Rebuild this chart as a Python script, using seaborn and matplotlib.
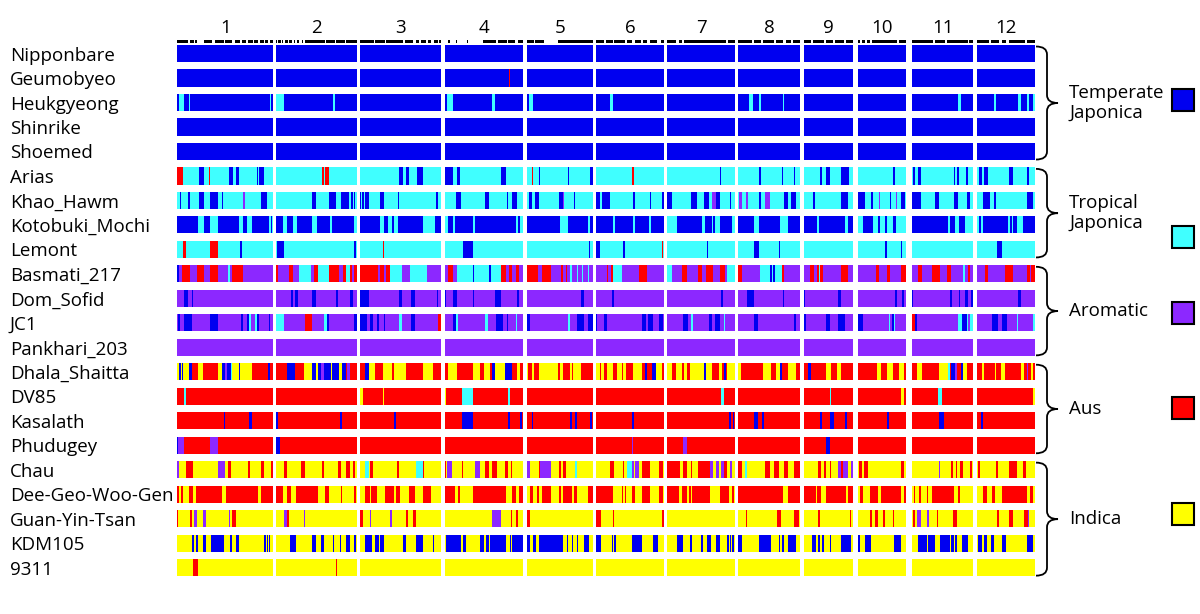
import numpy as np
import pandas as pd
import matplotlib
matplotlib.use("Agg")
import matplotlib.pyplot as plt
from matplotlib.colors import ListedColormap
from matplotlib.path import Path
from matplotlib.patches import PathPatch, Rectangle
import seaborn as sns

# ---------------- data ----------------
CHROMS = ["1", "2", "3", "4", "5", "6", "7", "8", "9", "10", "11", "12"]
CHROM_MB = [43.8, 36.7, 37.3, 35.9, 29.9, 31.0, 30.8, 28.6, 22.6, 22.1, 27.7, 26.3]

SAMPLES = ["Nipponbare", "Geumobyeo", "Heukgyeong", "Shinrike", "Shoemed",
           "Arias", "Khao_Hawm", "Kotobuki_Mochi", "Lemont",
           "Basmati_217", "Dom_Sofid", "JC1", "Pankhari_203",
           "Dhala_Shaitta", "DV85", "Kasalath", "Phudugey",
           "Chau", "Dee-Geo-Woo-Gen", "Guan-Yin-Tsan", "KDM105", "9311"]

ANCESTRY = ["Temperate\nJaponica", "Tropical\nJaponica", "Aromatic", "Aus", "Indica"]
ANCESTRY_CODE = ["B", "C", "P", "R", "Y"]
ANCESTRY_COLORS = ["#0000F0", "#40FFFF", "#8C28FF", "#FF0000", "#FFFF00"]
GROUP_FIRST = [0, 5, 9, 13, 17]
GROUP_LAST = [4, 8, 12, 16, 21]

# marker positions along each chromosome (K = marker, _ = none)
MARKERS = [
    "K30 _5 K12 _4 K5 _10 K3 _8 K22 _8 K25 _5 K20 _6 K15 _5 K12 _6 K15 _4 K10 _6 K10 _4 K8 _5 K10",
    "K3 _4 K6 _3 K4 _6 K10 _4 K8 _6 K4 _5 K6 _10 K4 _6 K60 _3 K30 _3 K25 _3 K35",
    "K40 _3 K30 _3 K50 _4 K25 _10 K6 _6 K15 _5 K10 _10 K8 _4 K8",
    "K3 _10 K4 _20 K3 _30 K4 _48 K40 _5 K30 _4 K20 _10 K15",
    "K20 _4 K25 _45 K105",
    "K25 _6 K20 _4 K35 _6 K15 _8 K20 _5 K15 _6 K25 _10 K10",
    "K25 _8 K10 _5 K120 _5 K20",
    "K40 _4 K20 _6 K30 _5 K20 _8 K15 _4 K20",
    "K20 _5 K30 _6 K20 _4 K25 _5 K20",
    "K8 _6 K8 _6 K8 _6 K70 _5 K20",
    "K60 _4 K30 _5 K60 _5 K10",
    "K30 _5 K20 _6 K10 _8 K40 _5 K20",
]

# ancestry segments per chromosome (letter = ancestry, number = relative length)
NIPPONBARE = ["B", "B", "B", "B", "B", "B", "B", "B", "B", "B", "B", "B"]
GEUMOBYEO = ["B", "B", "B", "B194 R3 B39", "B", "B", "B", "B", "B", "B", "B", "B"]
HEUKGYEONG = ["B5 C15 B15 C5 B238 C5 B5", "C24 B146 C4 B67", "B", "B7 C20 B117 C9 B83",
              "B5 C11 B180", "B42 C9 B153", "B", "B34 C12 B20 C4 B65 C3 B50", "B", "B",
              "B139 C8 B35", "B51 C5 B67 C10 B15 C8 B10 C7"]
SHINRIKE = ["B", "B", "B", "B", "B", "B", "B", "B", "B", "B", "B", "B"]
SHOEMED = ["B", "B", "B", "B", "B", "B", "B", "B", "B", "B", "B", "B"]
ARIAS = ["R18 C47 B14 C16 R3 C57 B13 C10 B7 C55 B3 C3 B15 C27", "C138 R5 C3 R12 C83",
         "C119 B12 C8 B8 C24 B18 C56", "C3 B22 C12 B10 C125 B12 C52",
         "C13 R4 C17 B4 C85 B3 C64 B6", "C106 R7 C91", "C157 B4 C41",
         "C65 B5 C63 B4 C32 B4 C15", "C50 B5 C10 B13 C32 B26 C12", "C106 B8 C31",
         "C3 B3 C10 B10 C99 B4 C4 B7 C21 B5 C16", "C6 B9 C6 B10 C64 B12 C43 B4 C19"]
KHAO_HAWM = ["C8 B3 C22 B7 C25 B14 C19 B23 C14 B3 C25 B3 C32 P4 C48 B18 C20",
             "C106 B12 C40 B20 C15 B25 C6 B4 C4 B4 C5",
             "B2 C5 B5 C2 B13 C32 B14 C42 B4 C109 B8 C9",
             "C34 B15 C73 B12 C55 B4 C11 B15 C17",
             "C4 B10 C10 B10 C62 B10 P5 C10 B3 C17 B3 C52",
             "B10 C7 B25 C68 B9 C43 B3 C32 B7",
             "B15 C55 B18 C22 B14 C9 P13 B11 C29 B6 C10",
             "C5 P8 C13 P4 C35 B5 C13 P15 C40 B15 C8 B15 C12",
             "C27 B6 C77 B22 C16",
             "B23 C17 B6 C17 P5 C30 B4 C13 P5 C11 B12 C2",
             "B26 C42 B12 C45 B13 C27 B8 C9",
             "C19 B19 C13 B4 C93 B18 C7"]
KOTOBUKI_MOCHI = ["B63 C16 B19 C25 B62 C11 B14 C13 B52 C5 B5 C3",
                  "B21 C12 B15 C13 B45 C15 B40 C7 B65 C8",
                  "B59 C14 B13 C12 B4 C13 B73 C38 B19",
                  "C12 B15 C6 B54 C5 B123 C6 B6 C9",
                  "B98 C25 B58 C7 B8",
                  "B50 C7 B55 C7 B40 C7 B38",
                  "C28 B75 C8 B22 C5 B5 C15 B35 C9",
                  "B48 C18 B62 C25 B35",
                  "B40 C5 B80 C8 B15",
                  "C16 B30 C14 B8 C15 B7 C15 B10 C30",
                  "B108 C5 B15 C13 B17 C24",
                  "C6 B4 C8 B75 C5 B7 C3 B10 C18 B37"]
LEMONT = ["C18 R8 C72 R25 C67 B3 C95", "C3 B20 C210 B6 C2", "C68 R5 C172", "C55 B32 C149",
          "C184 B4 C8", "B10 C72 B5 C112 R3 C2", "C118 B4 C80", "C50 B15 C58 B5 C60",
          "C", "C83 B7 C40 B3 C12", "C", "C60 B13 C100"]
BASMATI_217 = ["B6 P8 R24 P22 R20 P18 R25 P30 C5 P5 R33 P92",
               "R5 P32 R12 P18 C37 P7 R13 C32 R28 P15 R8 C12 R5 P7 R8",
               "R56 P5 R12 P5 R13 C35 P25 C50 P45",
               "P12 R15 P10 C50 B2 C46 B4 C33 R12 P10 R10 P11 R10 P11",
               "R33 P10 R27 P33 R5 P8 R4 P8 C5 P15 C3 P12 C5 P13 C5 P10",
               "P32 R5 P7 R6 C27 P53 R24 P50",
               "C15 P28 R15 P32 R13 P12 R23 P20 R15 P5 C24",
               "R13 P55 C30 B4 C6 B5 C20 R5 P50",
               "P20 R12 P8 R5 C5 R8 P20 C2 P32 R20 P16",
               "P56 R7 P27 R8 P33 R14",
               "P18 R10 P30 R25 P22 R13 P35 C5 P10 R5 P9",
               "P23 R10 P50 R25 P40 R10 P5 R10"]
DOM_SOFID = ["P20 B13 P10 B5 P240", "P43 B6 P7 B10 P40 B12 P60 B6 P37 B8 P12",
             "B26 P92 B10 P25 B13 P65 B5 P9", "B4 P23 B10 P50 B3 P62 B20 P45 B8 P11",
             "P160 B10 P26", "P47 B5 P152", "P160 B6 P36", "P28 B22 P85 B3 P50",
             "B5 P97 B8 P38", "P113 B7 P15 B6 P4", "B3 P112 B4 P21 B3 P15 B8 P12 B4",
             "P123 B10 P40"]
JC1 = ["P3 B5 P12 B23 P55 B23 P69 B5 P11 B7 C7 P13 C5 B6 P29 B3 P10",
       "C24 P62 R22 P35 C8 B7 P75 B8",
       "B23 P8 B7 P15 B5 P13 B5 P42 C10 P25 B13 P70 R9",
       "P27 B8 C4 P83 C10 P23 B22 P10 B5 P23 C4 P17",
       "B8 P115 C5 P22 B20 P13 B13",
       "B4 P18 B10 P105 B13 P7 B13 P19 B13 P2",
       "P46 B15 P9 C8 P45 B10 P10 B15 P10 C5 P29",
       "P48 B12 P108 B8 P12",
       "B8 P59 B10 P25 B23 P23",
       "B16 P77 C5 P5 B7 C3 P32",
       "R6 B7 P125 C13 B12 C5 P5 C9",
       "P43 B20 P10 B17 P8 C2 P18 C5 P43 C7"]
PANKHARI_203 = ["P", "P", "P", "P", "P", "P", "P", "P", "P", "P", "P", "P"]
DHALA_SHAITTA = ["Y6 B5 Y4 B3 Y17 B10 R18 Y15 R45 Y12 B10 P5 B10 C5 Y20 B5 Y35 R48 B5 R10",
                 "R31 B25 R28 Y24 B10 Y8 B7 P10 B20 Y3 B20 Y10 B12 R3 P10 R20",
                 "R16 B10 Y20 R22 Y28 R7 Y35 R53 Y27 R27",
                 "R9 Y28 R48 Y20 R15 Y17 R5 B10 Y30 B20 R15 Y10 R9",
                 "Y3 R10 Y7 R15 Y58 R5 Y8 R22 Y8 R2 Y23 R35",
                 "Y10 R5 Y9 R10 Y16 R12 Y15 R5 Y7 R21 Y27 R10 B7 R13 B13 Y17 R7",
                 "Y15 R11 Y17 R5 Y10 R10 Y42 B5 Y18 R20 Y10 R7 B5 R3 Y24",
                 "Y10 R65 Y25 R15 Y13 B5 R20 Y23 R12",
                 "R12 B10 R43 Y17 R16 Y12 R38",
                 "R58 Y12 R20 Y15 R20 Y15 R5",
                 "R13 Y15 R52 Y28 C5 R5 B10 P7 R10 B8 Y10 R19",
                 "R13 Y7 R33 Y5 R15 Y10 R50 Y7 R10 P3 R10 Y7 R5"]
DV85 = ["R20 C8 R260", "R", "Y8 R60 Y5 R172", "Y4 R48 C33 R107 C5 R39", "R", "R",
        "R160 C8 R34", "R", "R78 C4 R66", "R131 Y9 R5", "R78 C10 R94", "R166 Y7"]
KASALATH = ["R140 B3 R72 B8 R65", "B4 R187 B4 R46", "R103 B6 R136",
            "R52 B33 R107 B5 R30 B7 R2", "R13 B5 R110 B5 R10 B5 R40 B5 R3",
            "R107 B7 R90", "R183 B7 R6 B4 R2", "B3 R45 B12 R13 B7 R108",
            "R50 B5 R22 B15 R33 B5 R18", "B3 R85 B5 R52", "R80 B15 R87", "R10 B8 R155"]
PHUDUGEY = ["B3 P17 R78 P25 R165", "B11 R230", "R", "R", "R", "R107 P5 R92",
            "R46 P12 R144", "R", "R65 B12 R71", "R", "R", "R"]
CHAU = ["P5 Y23 R18 Y77 P20 Y10 R8 Y52 R5 Y35 R8 Y19 R8",
        "Y23 R8 Y43 R12 Y52 R3 Y43 R9 Y16 R12 Y10 R5 Y5",
        "Y16 C10 Y5 R7 Y73 R7 Y50 C20 Y3 R3 Y51",
        "Y2 R3 Y3 P15 Y29 R3 Y37 P13 Y17 R13 Y7 R15 Y25 R10 Y7 R6 Y31",
        "P8 Y28 R4 P30 Y26 R7 Y5 R8 Y27 C5 Y48",
        "Y42 R12 Y26 R4 Y8 C15 P7 Y3 P12 Y8 R25 Y27 R13 Y2",
        "R38 Y8 R12 Y13 R4 Y16 R35 P12 Y8 P7 Y8 P7 R10 Y8 P7 Y9",
        "R13 Y10 C5 Y55 R13 Y15 R12 Y15 R13 Y19 R18",
        "Y43 R9 Y8 R7 Y11 R5 Y19 P10 R6 P14 Y8 P8",
        "Y5 R8 Y7 R10 Y100 R8 Y7",
        "Y80 P5 Y31 R7 Y7 R6 Y7 R10 Y20 R7 Y2",
        "Y3 R5 Y47 R8 Y32 R11 Y2 R10 Y20 R8 Y27"]
DEE_GEO_WOO_GEN = ["R6 Y5 R7 Y17 R13 Y8 R79 Y11 R97 Y8 R37",
                   "R21 Y10 R12 Y16 R67 Y20 R13 Y12 R2 Y21 R4 Y35 R5 Y3",
                   "Y16 R15 Y3 R19 Y23 R25 Y7 R13 Y25 R20 Y25 R22 Y32",
                   "R32 Y7 R8 Y38 R100 Y17 R13 Y10 R11",
                   "Y8 R8 Y12 R8 Y7 R27 Y26 R4 Y6 R27 Y7 R10 Y31 R15",
                   "R50 Y29 R3 Y3 R4 Y18 R10 Y20 R25 Y27 R13 Y2",
                   "R35 Y8 R15 Y5 R8 Y4 R51 Y9 R3 Y20 R25 Y10 R7 Y2",
                   "R136 Y17 R35",
                   "R35 Y5 R13 Y14 R60 Y5 R16",
                   "Y8 R8 Y22 R23 Y9 R60 Y8 R7",
                   "Y5 R3 Y13 R4 Y18 R5 Y13 R64 Y13 R5 Y39",
                   "Y18 R12 Y15 R8 Y22 R73 Y10 R10 Y5"]
GUAN_YIN_TSAN = ["R3 Y35 R5 Y7 P8 Y20 P8 Y69 P3 Y8 R12 Y110",
                 "Y23 P8 R8 Y44 P3 Y155",
                 "R8 Y21 P5 Y57 P5 Y42 R6 Y17 R7 Y77",
                 "Y142 P30 Y28 R5 Y10 R5 Y16",
                 "R8 Y188",
                 "R14 Y36 R4 Y145 R5",
                 "Y",
                 "Y26 R3 Y89 R12 Y40 R16 Y2",
                 "Y43 R7 Y88 R5 Y5",
                 "Y38 R7 Y8 R8 Y15 R7 Y22 R6 Y34",
                 "Y3 R5 Y5 P12 Y20 P7 Y23 R3 Y43 R12 Y49",
                 "Y60 R5 Y30 R13 Y32 R13 P3 Y17"]
KDM105 = ["Y43 B7 Y5 B8 Y15 B8 Y14 B41 Y17 B7 Y10 B10 Y53 B3 Y19 B5 Y3 B3 Y4 B3 Y10",
          "Y41 B18 Y49 B11 Y15 B9 Y26 B4 Y18 B3 Y15 B12 Y12 B4 Y4",
          "Y16 B20 Y10 B12 Y3 B10 Y60 B7 Y31 B20 Y29 B3 Y24",
          "Y5 B45 Y7 B8 Y40 B14 Y6 B10 Y2 B47 Y13 B3 Y4 B32",
          "B8 Y8 B10 Y9 B71 Y14 B3 Y12 B3 Y10 B3 Y19 B16 Y10",
          "B14 Y33 B3 Y4 B5 Y48 B30 Y33 B15 Y19",
          "Y28 B18 Y22 B7 Y25 B8 Y12 B10 Y16 B12 Y20 B5 Y3 B4 Y3 B5 Y4",
          "Y3 B10 Y50 B37 Y23 B5 Y5 B5 Y12 B26 Y12",
          "Y23 B15 Y4 B8 Y5 B5 Y17 B5 Y28 B30 Y8",
          "Y3 B5 Y15 B17 Y70 B20 Y15",
          "Y16 B27 Y5 B20 Y15 B20 Y3 B7 Y3 B9 Y3 B7 Y15 B18 Y14",
          "Y3 B12 Y5 B10 Y10 B10 Y25 B10 Y63 B18 Y7"]
S9311 = ["Y46 R17 Y225", "Y178 R3 Y60", "Y", "Y", "Y", "Y", "Y", "Y", "Y", "Y", "Y", "Y"]

HAPLOTYPES = [NIPPONBARE, GEUMOBYEO, HEUKGYEONG, SHINRIKE, SHOEMED,
              ARIAS, KHAO_HAWM, KOTOBUKI_MOCHI, LEMONT,
              BASMATI_217, DOM_SOFID, JC1, PANKHARI_203,
              DHALA_SHAITTA, DV85, KASALATH, PHUDUGEY,
              CHAU, DEE_GEO_WOO_GEN, GUAN_YIN_TSAN, KDM105, S9311]

# ---------------- layout ----------------
GAP_MB = [1.37, 1.37, 1.37, 1.96, 1.5, 1.5, 1.19, 1.5, 2.1, 3.0, 1.96]
RES = 0.2
BAR_SUB, GAP_SUB, HEAD_SUB = 7, 3, 2
LEGEND_Y = [100, 237, 313, 408, 514]

CODES = {"K": 0}
for i, c in enumerate(ANCESTRY_CODE):
    CODES[c] = i + 1

n_chr = [int(round(m / RES)) for m in CHROM_MB]
n_gap = [int(round(g / RES)) for g in GAP_MB]


def expand(spec, n):
    toks = spec.split()
    letters = [t[0] for t in toks]
    w = np.array([float(t[1:]) if len(t) > 1 else 1.0 for t in toks])
    edges = np.cumsum(w) / w.sum() * n
    centers = np.arange(n) + 0.5
    idx = np.minimum(np.searchsorted(edges, centers, side="right"), len(toks) - 1)
    return np.array([np.nan if letters[i] == "_" else CODES[letters[i]] for i in idx], float)


def genome_row(specs):
    parts = []
    for i, (spec, n) in enumerate(zip(specs, n_chr)):
        parts.append(expand(spec, n))
        if i < len(n_gap):
            parts.append(np.full(n_gap[i], np.nan))
    return np.concatenate(parts)


ncols = sum(n_chr) + sum(n_gap)
blank = np.full(ncols, np.nan)
rows = [genome_row(MARKERS), blank]
for hap in HAPLOTYPES:
    r = genome_row(hap)
    rows += [r] * BAR_SUB + [blank] * GAP_SUB
mat = pd.DataFrame(np.vstack(rows))

sns.set_theme(style="white")
plt.rcParams["font.family"] = ["Open Sans", "DejaVu Sans"]
plt.rcParams["text.color"] = "black"

fig = plt.figure(figsize=(12, 6.14), dpi=100)
W, H = 1200, 614
top_px, bot_px = 40.1, 583.5
ax = fig.add_axes([177.3 / W, 1 - bot_px / H, (1035 - 177.3) / W, (bot_px - top_px) / H])

cmap = ListedColormap(["#000000"] + ANCESTRY_COLORS)
sns.heatmap(mat, cmap=cmap, vmin=-0.5, vmax=5.5, cbar=False,
            xticklabels=False, yticklabels=False, ax=ax, rasterized=True)
for s in ax.spines.values():
    s.set_visible(False)

FS = 13.5
# chromosome labels on top
starts = np.cumsum([0] + [n_chr[i] + n_gap[i] for i in range(len(n_gap))])
centers = [starts[i] + n_chr[i] / 2 for i in range(len(CHROMS))]
ax.set_xticks(centers)
ax.set_xticklabels(CHROMS, fontsize=FS)
ax.xaxis.set_ticks_position("top")
ax.xaxis.set_label_position("top")
ax.tick_params(axis="x", length=0, pad=2.5, labeltop=True, labelbottom=False,
               labelcolor="black")

# sample labels on the left
ycent = [HEAD_SUB + i * (BAR_SUB + GAP_SUB) + BAR_SUB / 2 for i in range(len(SAMPLES))]
ax.set_yticks(ycent)
ax.set_yticklabels(SAMPLES, fontsize=FS)
ax.tick_params(axis="y", length=0, pad=(177.3 - 10) * 0.72, labelcolor="black")
for lab in ax.get_yticklabels():
    lab.set_horizontalalignment("left")

# overlay for braces, group labels and legend swatches
ov = fig.add_axes([0, 0, 1, 1], zorder=5)
ov.set_xlim(0, W)
ov.set_ylim(H, 0)
ov.axis("off")
ov.patch.set_alpha(0)


def to_px(yrow):
    d = ax.transData.transform((0, yrow))
    return ov.transData.inverted().transform(d)[1]


x0, x1, x2, r = 1036, 1047, 1058, 8
for g in range(len(ANCESTRY)):
    ytop = to_px(HEAD_SUB + GROUP_FIRST[g] * (BAR_SUB + GAP_SUB)) + 1.5
    ybot = to_px(HEAD_SUB + GROUP_LAST[g] * (BAR_SUB + GAP_SUB) + BAR_SUB) - 0.5
    ym = (ytop + ybot) / 2
    verts = [(x0, ytop), (x1, ytop), (x1, ytop + r),
             (x1, ym - r),
             (x1, ym), (x2, ym),
             (x1, ym), (x1, ym + r),
             (x1, ybot - r),
             (x1, ybot), (x0, ybot)]
    codes = [Path.MOVETO, Path.CURVE3, Path.CURVE3,
             Path.LINETO,
             Path.CURVE3, Path.CURVE3,
             Path.CURVE3, Path.CURVE3,
             Path.LINETO,
             Path.CURVE3, Path.CURVE3]
    ov.add_patch(PathPatch(Path(verts, codes), fill=False, lw=1.3, color="black"))
    ov.text(1069, ym, ANCESTRY[g], fontsize=FS, ha="left", va="center",
            linespacing=1.15, color="black")
    ov.add_patch(Rectangle((1172, LEGEND_Y[g] - 11), 22, 22,
                           facecolor=ANCESTRY_COLORS[g], edgecolor="black", lw=1.5))

fig.savefig("out.png", dpi=100)
